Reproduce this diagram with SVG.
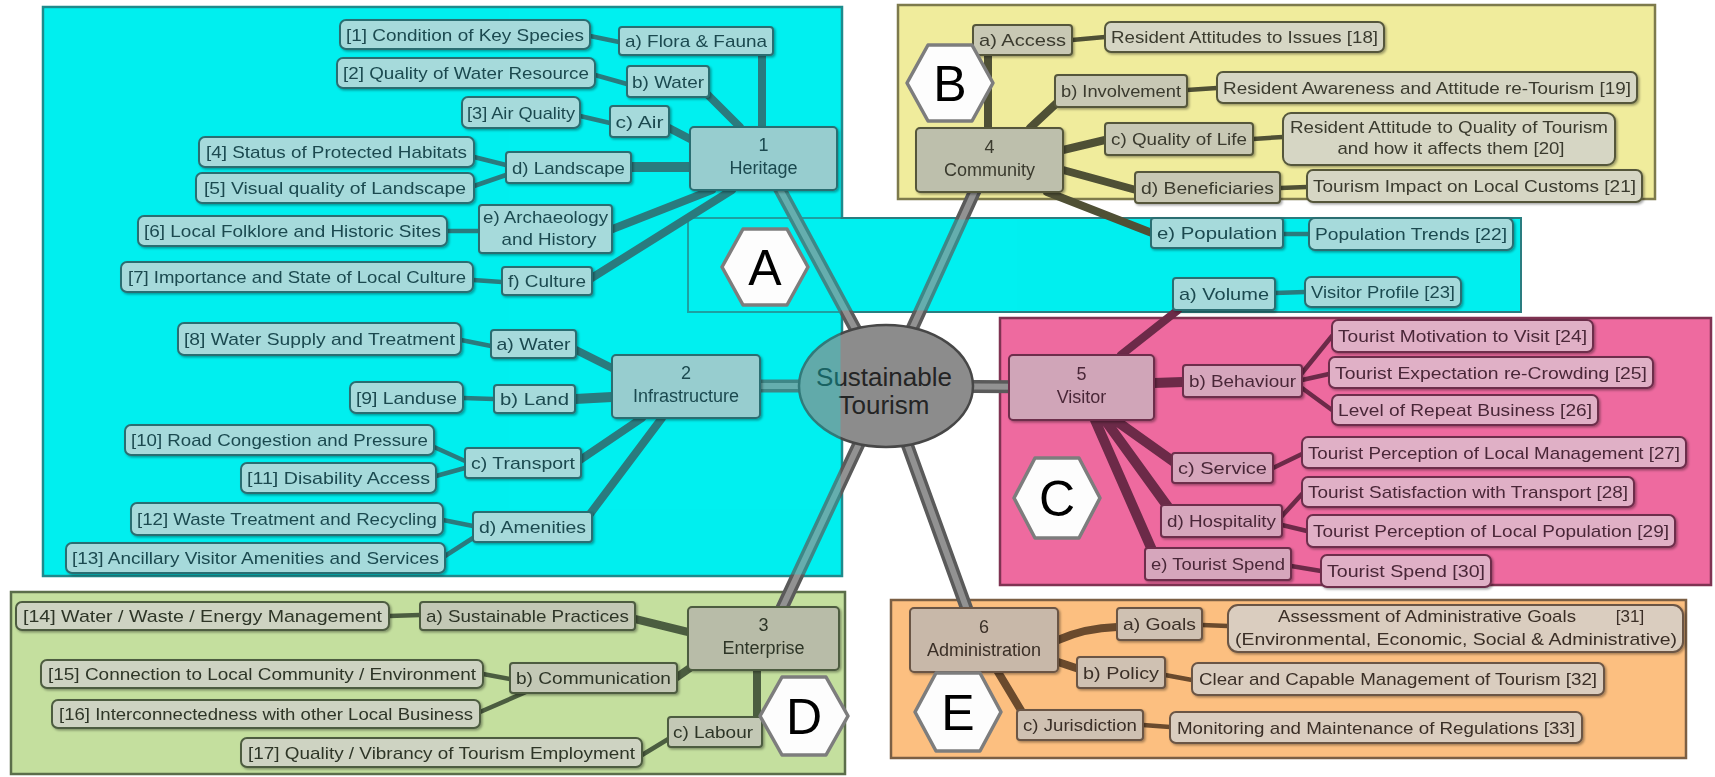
<svg xmlns="http://www.w3.org/2000/svg" width="1715" height="777" viewBox="0 0 1715 777">
<defs>
<style>
text{font-family:"Liberation Sans",Arial,Helvetica,sans-serif;}
.n text{font-size:17px;text-anchor:middle}
.m text{font-size:18px}
.n rect{stroke-width:2}
.c rect{fill:#a6dadb;stroke:#2c6e72}
.c text{fill:#1b4a50}
.c.m rect{fill:#97cdcf}
.y rect{fill:#d6d6c4;stroke:#55573b}
.y.s rect{fill:#c8c8b4}
.y.m rect{fill:#bdbfac}
.y text{fill:#3a3a2e}
.p rect{fill:#e0b0c6;stroke:#6d2d4b}
.p.s rect{fill:#d6a6bc}
.p.m rect{fill:#d0a5b8}
.p text{fill:#4a2838}
.g rect{fill:#ced3c2;stroke:#4d5c40}
.g.s rect{fill:#c3c8b5}
.g.m rect{fill:#b8bca8}
.g text{fill:#2e3628}
.o rect{fill:#dacdbf;stroke:#6a5444}
.o.s rect{fill:#cfc1b2}
.o.m rect{fill:#c8b8a9}
.o text{fill:#3a2f27}
.k{fill:none;stroke-linecap:round}
.kc{stroke:#2a7b7e}
.ky{stroke:#4f5035}
.kp{stroke:#6c2a48}
.kg{stroke:#4b5d40}
.ko{stroke:#6a4a2d}
.w1{stroke-width:8}
.w0{stroke-width:10}
.w2{stroke-width:4.5}
.spo{stroke:#5a5a5a;stroke-width:13;stroke-linecap:round}
.spi{stroke:#929292;stroke-width:6;stroke-linecap:round}
.hex polygon{fill:#fdfdfd;stroke:#7d7d7d;stroke-width:3.5;stroke-linejoin:round}
.hex text{font-size:50px;text-anchor:middle;fill:#000}
</style>
<filter id="sh" x="-10%" y="-20%" width="120%" height="150%">
<feDropShadow dx="1.5" dy="1.5" stdDeviation="1" flood-color="#000" flood-opacity="0.35"/>
</filter>
</defs>
<rect x="0" y="0" width="1715" height="777" fill="#ffffff"/>

<g id="panels">
<rect x="43" y="7" width="799" height="569" fill="#00f0f0" stroke="#1f8a8c" stroke-width="2.5"/>
<rect x="688" y="218" width="833" height="94" fill="#00f0f0" stroke="#2a7d80" stroke-width="2"/>
<rect x="898" y="5" width="757" height="194" fill="#f0ec9c" stroke="#7d7a4c" stroke-width="2.5"/>
<rect x="1000" y="318" width="711" height="267" fill="#ee6a9f" stroke="#7f3352" stroke-width="2.5"/>
<rect x="11" y="592" width="834" height="182" fill="#c4df9e" stroke="#5b6e4a" stroke-width="2.5"/>
<rect x="891" y="600" width="795" height="158" fill="#fcbf80" stroke="#7b5f44" stroke-width="2.5"/>
</g>

<g id="spokes">
<line class="spo" x1="886" y1="386" x2="763" y2="158"/><line class="spi" x1="886" y1="386" x2="763" y2="158"/>
<line class="spo" x1="886" y1="386" x2="686" y2="386"/><line class="spi" x1="886" y1="386" x2="686" y2="386"/>
<line class="spo" x1="886" y1="386" x2="768" y2="638"/><line class="spi" x1="886" y1="386" x2="768" y2="638"/>
<line class="spo" x1="886" y1="386" x2="989" y2="160"/><line class="spi" x1="886" y1="386" x2="989" y2="160"/>
<line class="spo" x1="886" y1="386" x2="1081" y2="387"/><line class="spi" x1="886" y1="386" x2="1081" y2="387"/>
<line class="spo" x1="886" y1="386" x2="978" y2="640"/><line class="spi" x1="886" y1="386" x2="978" y2="640"/>
</g>

<g id="n-center">
<ellipse cx="886" cy="386" rx="87" ry="61" fill="#8c8c8c" stroke="#474747" stroke-width="2.5"/>
<text x="884" y="386" font-size="26" text-anchor="middle" fill="#242424">Sustainable</text>
<text x="884" y="414" font-size="26" text-anchor="middle" fill="#242424">Tourism</text>
</g>

<g id="cyan-tint" opacity="0.3" fill="#00f0f0">
<rect x="44.5" y="8.5" width="796" height="566"/>
<rect x="689.5" y="219.5" width="830" height="91"/>
</g>

<g id="connectors">
<path class="k kc w1" d="M762 55V127M705 92L740 127M667 127L692 140M590 279L732 190M610 230L712 190"/>
<path class="k kc w0" d="M631 167H690"/>
<path class="k kc w2" d="M590 36L619 42M595 75L627 84M580 116L610 123M474 157L506 165M474 186L506 175M447 231H479M473 280L502 282"/>
<path class="k kc w1" d="M576 350L612 368M580 460L642 418M590 514L662 418"/>
<path class="k kc w0" d="M575 399L612 397"/>
<path class="k kc w2" d="M461 340L491 346M463 398L494 399M434 447L465 461M436 476L465 468M443 520L473 526M445 556L473 538"/>
<path class="k kg w1" d="M635 619L688 632M677 677L690 668M757 670V717"/>
<path class="k kg w2" d="M389 616L420 615M483 674L510 679M480 712L526 692M642 755L670 738"/>
<path class="k ky w1" d="M988 55V128M1060 100L1030 128M1063 150L1105 140M1063 170L1136 190M1047 192L1152 233"/>
<path class="k ky w2" d="M1072 40L1105 37M1187 90L1217 88M1253 139L1283 137M1280 188L1307 187"/>
<path class="k kc w2" d="M1283 234H1309M1275 293L1305 292"/>
<path class="k kp w1" d="M1121 355L1178 310"/>
<path class="k kp w0" d="M1154 383L1183 382M1115 420L1174 462M1105 420L1168 507M1095 420L1152 550"/>
<path class="k kp w2" d="M1302 373L1332 336M1302 380L1329 374M1302 388L1332 410M1273 468L1302 454M1282 516L1302 494M1282 525L1307 531M1291 566L1321 571"/>
<path class="k ko w1" d="M1058 640Q1085 628 1117 627M1058 662L1079 669M998 672L1022 712"/>
<path class="k ko w2" d="M1202 625L1228 626M1165 675L1192 680M1143 725L1170 727"/>
</g>

<g filter="url(#sh)">
<g id="n1" class="n c"><rect x="340" y="20" width="250" height="29" rx="6"/><text x="465" y="40.5" textLength="238" lengthAdjust="spacingAndGlyphs">[1] Condition of Key Species</text></g>
<g id="n1a" class="n c s"><rect x="619" y="27" width="154" height="28" rx="3"/><text x="696" y="47" textLength="142" lengthAdjust="spacingAndGlyphs">a) Flora &amp; Fauna</text></g>
<g id="n2" class="n c"><rect x="337" y="58" width="258" height="30" rx="6"/><text x="466" y="79" textLength="246" lengthAdjust="spacingAndGlyphs">[2] Quality of Water Resource</text></g>
<g id="n1b" class="n c s"><rect x="627" y="66" width="82" height="31" rx="3"/><text x="668" y="87.5" textLength="72" lengthAdjust="spacingAndGlyphs">b) Water</text></g>
<g id="n3" class="n c"><rect x="462" y="97" width="118" height="31" rx="6"/><text x="521" y="118.5" textLength="108" lengthAdjust="spacingAndGlyphs">[3] Air Quality</text></g>
<g id="n1c" class="n c s"><rect x="610" y="106" width="59" height="31" rx="3"/><text x="639.5" y="127.5" textLength="48" lengthAdjust="spacingAndGlyphs">c) Air</text></g>
<g id="heritage" class="n c m"><rect x="690" y="127" width="147" height="63" rx="4"/><text x="763.5" y="151">1</text><text x="763.5" y="174">Heritage</text></g>
<g id="n4" class="n c"><rect x="199" y="137" width="275" height="30" rx="6"/><text x="336.5" y="158" textLength="261" lengthAdjust="spacingAndGlyphs">[4] Status of Protected Habitats</text></g>
<g id="n5" class="n c"><rect x="196" y="173" width="278" height="30" rx="6"/><text x="335" y="194" textLength="262" lengthAdjust="spacingAndGlyphs">[5] Visual quality of Landscape</text></g>
<g id="n1d" class="n c s"><rect x="506" y="152" width="125" height="31" rx="3"/><text x="568.5" y="173.5" textLength="113" lengthAdjust="spacingAndGlyphs">d) Landscape</text></g>
<g id="n6" class="n c"><rect x="138" y="216" width="309" height="30" rx="6"/><text x="292.5" y="237" textLength="297" lengthAdjust="spacingAndGlyphs">[6] Local Folklore and Historic Sites</text></g>
<g id="n1e" class="n c s"><rect x="479" y="205" width="133" height="48" rx="3"/><text x="545.5" y="223" textLength="125" lengthAdjust="spacingAndGlyphs">e) Archaeology</text><text x="549" y="245" textLength="95" lengthAdjust="spacingAndGlyphs">and History</text></g>
<g id="n7" class="n c"><rect x="121" y="262" width="352" height="30" rx="6"/><text x="297" y="283" textLength="338" lengthAdjust="spacingAndGlyphs">[7] Importance and State of Local Culture</text></g>
<g id="n1f" class="n c s"><rect x="502" y="267" width="90" height="28" rx="3"/><text x="547" y="287" textLength="78" lengthAdjust="spacingAndGlyphs">f) Culture</text></g>

<g id="n8" class="n c"><rect x="178" y="323" width="283" height="32" rx="6"/><text x="319.5" y="345" textLength="271" lengthAdjust="spacingAndGlyphs">[8] Water Supply and Treatment</text></g>
<g id="n2a" class="n c s"><rect x="491" y="330" width="85" height="28" rx="3"/><text x="533.5" y="350" textLength="74" lengthAdjust="spacingAndGlyphs">a) Water</text></g>
<g id="infrastructure" class="n c m"><rect x="612" y="355" width="148" height="63" rx="4"/><text x="686" y="379">2</text><text x="686" y="402">Infrastructure</text></g>
<g id="n9" class="n c"><rect x="350" y="382" width="113" height="31" rx="6"/><text x="406.5" y="403.5" textLength="101" lengthAdjust="spacingAndGlyphs">[9] Landuse</text></g>
<g id="n2b" class="n c s"><rect x="494" y="385" width="81" height="28" rx="3"/><text x="534.5" y="405" textLength="69" lengthAdjust="spacingAndGlyphs">b) Land</text></g>
<g id="n10" class="n c"><rect x="125" y="425" width="309" height="30" rx="6"/><text x="279.5" y="446" textLength="297" lengthAdjust="spacingAndGlyphs">[10] Road Congestion and Pressure</text></g>
<g id="n11" class="n c"><rect x="241" y="463" width="195" height="30" rx="6"/><text x="338.5" y="484" textLength="183" lengthAdjust="spacingAndGlyphs">[11] Disability Access</text></g>
<g id="n2c" class="n c s"><rect x="465" y="448" width="116" height="30" rx="3"/><text x="523" y="469" textLength="104" lengthAdjust="spacingAndGlyphs">c) Transport</text></g>
<g id="n12" class="n c"><rect x="131" y="503" width="312" height="32" rx="6"/><text x="287" y="525" textLength="300" lengthAdjust="spacingAndGlyphs">[12] Waste Treatment and Recycling</text></g>
<g id="n13" class="n c"><rect x="66" y="543" width="379" height="30" rx="6"/><text x="255.5" y="564" textLength="367" lengthAdjust="spacingAndGlyphs">[13] Ancillary Visitor Amenities and Services</text></g>
<g id="n2d" class="n c s"><rect x="473" y="512" width="119" height="30" rx="3"/><text x="532.5" y="533" textLength="107" lengthAdjust="spacingAndGlyphs">d) Amenities</text></g>

<g id="n14" class="n g"><rect x="16" y="602" width="373" height="28" rx="6"/><text x="202.5" y="622" textLength="359" lengthAdjust="spacingAndGlyphs">[14] Water / Waste / Energy Management</text></g>
<g id="n3a" class="n g s"><rect x="420" y="602" width="215" height="28" rx="3"/><text x="527.5" y="622" textLength="203" lengthAdjust="spacingAndGlyphs">a) Sustainable Practices</text></g>
<g id="enterprise" class="n g m"><rect x="688" y="607" width="151" height="63" rx="4"/><text x="763.5" y="631">3</text><text x="763.5" y="654">Enterprise</text></g>
<g id="n15" class="n g"><rect x="41" y="660" width="442" height="28" rx="6"/><text x="262" y="680" textLength="428" lengthAdjust="spacingAndGlyphs">[15] Connection to Local Community / Environment</text></g>
<g id="n3b" class="n g s"><rect x="510" y="663" width="167" height="30" rx="3"/><text x="593.5" y="684" textLength="155" lengthAdjust="spacingAndGlyphs">b) Communication</text></g>
<g id="n16" class="n g"><rect x="52" y="700" width="428" height="28" rx="6"/><text x="266" y="720" textLength="414" lengthAdjust="spacingAndGlyphs">[16] Interconnectedness with other Local Business</text></g>
<g id="n3c" class="n g s"><rect x="668" y="717" width="94" height="30" rx="3"/><text x="713" y="738" textLength="80" lengthAdjust="spacingAndGlyphs">c) Labour</text></g>
<g id="n17" class="n g"><rect x="241" y="738" width="401" height="29" rx="6"/><text x="441.5" y="758.5" textLength="387" lengthAdjust="spacingAndGlyphs">[17] Quality / Vibrancy of Tourism Employment</text></g>

<g id="n4a" class="n y s"><rect x="973" y="25" width="99" height="30" rx="3"/><text x="1022.5" y="46" textLength="87" lengthAdjust="spacingAndGlyphs">a) Access</text></g>
<g id="n18" class="n y"><rect x="1105" y="22" width="279" height="30" rx="6"/><text x="1244.5" y="43" textLength="267" lengthAdjust="spacingAndGlyphs">Resident Attitudes to Issues [18]</text></g>
<g id="n4b" class="n y s"><rect x="1055" y="75" width="132" height="32" rx="3"/><text x="1121" y="97" textLength="120" lengthAdjust="spacingAndGlyphs">b) Involvement</text></g>
<g id="n19" class="n y"><rect x="1217" y="72" width="420" height="31" rx="6"/><text x="1427" y="93.5" textLength="408" lengthAdjust="spacingAndGlyphs">Resident Awareness and Attitude re-Tourism [19]</text></g>
<g id="community" class="n y m"><rect x="916" y="128" width="147" height="64" rx="4"/><text x="989.5" y="153">4</text><text x="989.5" y="176">Community</text></g>
<g id="n4c" class="n y s"><rect x="1105" y="123" width="148" height="32" rx="3"/><text x="1179" y="145" textLength="136" lengthAdjust="spacingAndGlyphs">c) Quality of Life</text></g>
<g id="n20" class="n y"><rect x="1283" y="113" width="332" height="52" rx="8"/><text x="1449" y="133" textLength="318" lengthAdjust="spacingAndGlyphs">Resident Attitude to Quality of Tourism</text><text x="1451" y="154" textLength="227" lengthAdjust="spacingAndGlyphs">and how it affects them [20]</text></g>
<g id="n4d" class="n y s"><rect x="1135" y="172" width="145" height="31" rx="3"/><text x="1207.5" y="193.5" textLength="133" lengthAdjust="spacingAndGlyphs">d) Beneficiaries</text></g>
<g id="n21" class="n y"><rect x="1307" y="170" width="335" height="32" rx="6"/><text x="1474.5" y="192" textLength="323" lengthAdjust="spacingAndGlyphs">Tourism Impact on Local Customs [21]</text></g>
<g id="n4e" class="n c s"><rect x="1151" y="218" width="132" height="30" rx="3"/><text x="1217" y="239" textLength="120" lengthAdjust="spacingAndGlyphs">e) Population</text></g>
<g id="n22" class="n c"><rect x="1309" y="218" width="204" height="32" rx="6"/><text x="1411" y="240" textLength="192" lengthAdjust="spacingAndGlyphs">Population Trends [22]</text></g>

<g id="n5a" class="n c s"><rect x="1173" y="278" width="102" height="32" rx="3"/><text x="1224" y="300" textLength="90" lengthAdjust="spacingAndGlyphs">a) Volume</text></g>
<g id="n23" class="n c"><rect x="1305" y="277" width="156" height="30" rx="6"/><text x="1383" y="298" textLength="144" lengthAdjust="spacingAndGlyphs">Visitor Profile [23]</text></g>
<g id="visitor" class="n p m"><rect x="1009" y="355" width="145" height="65" rx="4"/><text x="1081.5" y="380">5</text><text x="1081.5" y="403">Visitor</text></g>
<g id="n5b" class="n p s"><rect x="1183" y="365" width="119" height="32" rx="3"/><text x="1242.5" y="387" textLength="107" lengthAdjust="spacingAndGlyphs">b) Behaviour</text></g>
<g id="n24" class="n p"><rect x="1332" y="320" width="261" height="32" rx="6"/><text x="1462.5" y="342" textLength="249" lengthAdjust="spacingAndGlyphs">Tourist Motivation to Visit [24]</text></g>
<g id="n25" class="n p"><rect x="1329" y="357" width="324" height="31" rx="6"/><text x="1491" y="378.5" textLength="312" lengthAdjust="spacingAndGlyphs">Tourist Expectation re-Crowding [25]</text></g>
<g id="n26" class="n p"><rect x="1332" y="395" width="266" height="30" rx="6"/><text x="1465" y="416" textLength="254" lengthAdjust="spacingAndGlyphs">Level of Repeat Business [26]</text></g>
<g id="n5c" class="n p s"><rect x="1172" y="453" width="101" height="30" rx="3"/><text x="1222.5" y="474" textLength="89" lengthAdjust="spacingAndGlyphs">c) Service</text></g>
<g id="n27" class="n p"><rect x="1302" y="437" width="384" height="31" rx="6"/><text x="1494" y="458.5" textLength="372" lengthAdjust="spacingAndGlyphs">Tourist Perception of Local Management [27]</text></g>
<g id="n28" class="n p"><rect x="1302" y="477" width="332" height="30" rx="6"/><text x="1468" y="498" textLength="320" lengthAdjust="spacingAndGlyphs">Tourist Satisfaction with Transport [28]</text></g>
<g id="n5d" class="n p s"><rect x="1161" y="505" width="121" height="32" rx="3"/><text x="1221.5" y="527" textLength="109" lengthAdjust="spacingAndGlyphs">d) Hospitality</text></g>
<g id="n29" class="n p"><rect x="1307" y="515" width="368" height="32" rx="6"/><text x="1491" y="537" textLength="356" lengthAdjust="spacingAndGlyphs">Tourist Perception of Local Population [29]</text></g>
<g id="n5e" class="n p s"><rect x="1145" y="548" width="146" height="32" rx="3"/><text x="1218" y="570" textLength="134" lengthAdjust="spacingAndGlyphs">e) Tourist Spend</text></g>
<g id="n30" class="n p"><rect x="1321" y="555" width="170" height="32" rx="6"/><text x="1406" y="577" textLength="158" lengthAdjust="spacingAndGlyphs">Tourist Spend [30]</text></g>

<g id="administration" class="n o m"><rect x="910" y="608" width="148" height="64" rx="4"/><text x="984" y="633">6</text><text x="984" y="656">Administration</text></g>
<g id="n6a" class="n o s"><rect x="1117" y="608" width="85" height="32" rx="3"/><text x="1159.5" y="630" textLength="73" lengthAdjust="spacingAndGlyphs">a) Goals</text></g>
<g id="n31" class="n o"><rect x="1228" y="605" width="455" height="47" rx="10"/><text x="1427" y="622" textLength="298" lengthAdjust="spacingAndGlyphs">Assessment of Administrative Goals</text><text x="1630" y="622">[31]</text><text x="1456" y="645" textLength="442" lengthAdjust="spacingAndGlyphs">(Environmental, Economic, Social  &amp; Administrative)</text></g>
<g id="n6b" class="n o s"><rect x="1077" y="657" width="88" height="31" rx="3"/><text x="1121" y="678.5" textLength="76" lengthAdjust="spacingAndGlyphs">b) Policy</text></g>
<g id="n32" class="n o"><rect x="1192" y="663" width="412" height="32" rx="6"/><text x="1398" y="685" textLength="398" lengthAdjust="spacingAndGlyphs">Clear and Capable Management of Tourism [32]</text></g>
<g id="n6c" class="n o s"><rect x="1017" y="710" width="126" height="30" rx="3"/><text x="1080" y="731" textLength="114" lengthAdjust="spacingAndGlyphs">c) Jurisdiction</text></g>
<g id="n33" class="n o"><rect x="1170" y="712" width="412" height="31" rx="6"/><text x="1376" y="733.5" textLength="398" lengthAdjust="spacingAndGlyphs">Monitoring and Maintenance of Regulations [33]</text></g>
</g>

<g id="hexA" class="hex"><polygon points="722,267 743,229 787,229 808,267 787,305 743,305"/><text x="765" y="285">A</text></g>
<g id="hexB" class="hex"><polygon points="907,83 928,45 972,45 993,83 972,121 928,121"/><text x="950" y="101">B</text></g>
<g id="hexC" class="hex"><polygon points="1014,498 1035,458 1079,458 1100,498 1079,538 1035,538"/><text x="1057" y="516">C</text></g>
<g id="hexD" class="hex"><polygon points="760,716 782,677 826,677 848,716 826,755 782,755"/><text x="804" y="734">D</text></g>
<g id="hexE" class="hex"><polygon points="915,712 936,673 980,673 1001,712 980,751 936,751"/><text x="958" y="730">E</text></g>
</svg>
